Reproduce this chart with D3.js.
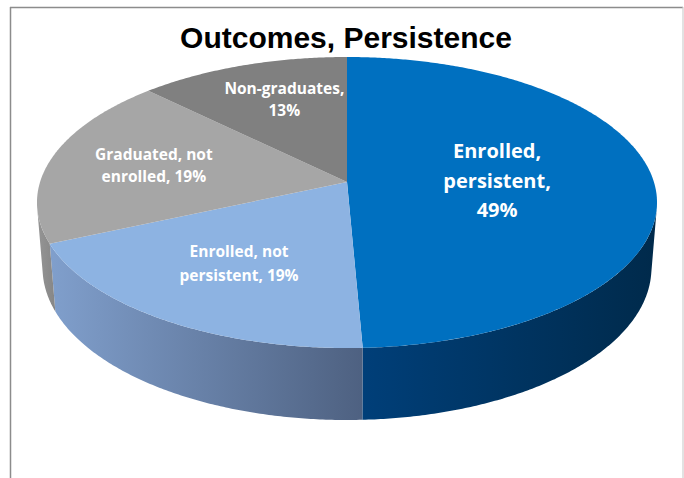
<!DOCTYPE html>
<html>
<head>
<meta charset="utf-8">
<script src="https://cdn.jsdelivr.net/npm/d3@7"></script>
<style>
  html, body { margin: 0; padding: 0; background: #ffffff; }
  svg { display: block; }
</style>
</head>
<body>
<svg id="chart" width="684" height="478"></svg>
<script>
// ---- data ----
const title = "Outcomes, Persistence";
const categories = ["Enrolled, persistent", "Enrolled, not persistent", "Graduated, not enrolled", "Non-graduates"];
const values = [49.3, 19.0, 19.1, 12.6];
const labelLines = [
  ["Enrolled,", "persistent,"],
  ["Enrolled, not", "persistent,"],
  ["Graduated, not", "enrolled,"],
  ["Non-graduates,"]
];
// percent goes on its own line or appended to the last line
const percentOwnLine = [true, false, false, true];

// ---- styles ----
const topColors = ["#0070C0", "#8DB3E2", "#A6A6A6", "#808080"];
const wallStops = [["#003f79", "#002a4b"], ["#809fcc", "#4e6181"], ["#959595", "#868686"], ["#6a6a6a", "#5a5a5a"]];
const labelRadius = [0.49, 0.62, 0.65, 0.687];
const labelNudge = [0, 0, 0, 12];
const labelSize = [20, 15.5, 15.5, 15.5];
const labelLead = [29.5, 23.5, 22, 22];

const svg = d3.select("#chart");
const W = 684, H = 478;

// ---- 3D projection of the pie (perspective) ----
const cx = 347, cy = 182;
const phi = Math.asin(0.4647);
const Dist = 6.285, focal = 1929, depthH = 0.2433;
function proj(theta, rho, h) {
  const X = rho * Math.sin(theta), Z = rho * Math.cos(theta);
  const yc = Z * Math.sin(phi) - h * Math.cos(phi);
  const dep = Dist + Z * Math.cos(phi) + h * Math.sin(phi);
  return [cx + focal * X / dep, cy - focal * yc / dep];
}

const pie = d3.pie().sort(null).startAngle(0).endAngle(2 * Math.PI);
const arcs = pie(values);
const line = d3.line().curve(d3.curveLinear);
function samples(a0, a1) {
  const n = Math.max(2, Math.ceil(Math.abs(a1 - a0) / (Math.PI / 360)));
  return d3.range(n + 1).map(i => a0 + (a1 - a0) * i / n);
}

const defs = svg.append("defs");

// ---- walls ----
const visLim = Math.acos(-1 / (Dist * Math.cos(phi)));
const thL = visLim, thR = 2 * Math.PI - visLim;
const gWalls = svg.append("g");
arcs.forEach((a, i) => {
  const s = Math.max(a.startAngle, thL), e = Math.min(a.endAngle, thR);
  if (e <= s) return;
  const ts = samples(s, e);
  const topPts = ts.map(t => proj(t, 1, 0));
  const botPts = ts.slice().reverse().map(t => proj(t, 1, depthH));
  const pts = topPts.concat(botPts);
  const xs = pts.map(p => p[0]);
  const gid = "wall" + i;
  const grad = defs.append("linearGradient").attr("id", gid)
    .attr("gradientUnits", "userSpaceOnUse")
    .attr("x1", d3.min(xs)).attr("x2", d3.max(xs)).attr("y1", 0).attr("y2", 0);
  grad.append("stop").attr("offset", "0%").attr("stop-color", wallStops[i][0]);
  grad.append("stop").attr("offset", "100%").attr("stop-color", wallStops[i][1]);
  gWalls.append("path").attr("d", line(pts) + "Z").attr("fill", `url(#${gid})`);
});

// ---- top faces ----
const gTop = svg.append("g");
arcs.forEach((a, i) => {
  const pts = [proj(0, 0, 0)].concat(samples(a.startAngle, a.endAngle).map(t => proj(t, 1, 0)));
  gTop.append("path").attr("d", line(pts) + "Z").attr("fill", topColors[i]);
});

// ---- labels ----
const gLab = svg.append("g").attr("font-family", "'Open Sans', Lato, sans-serif")
  .attr("font-weight", "bold").attr("fill", "#ffffff").attr("text-anchor", "middle");
arcs.forEach((a, i) => {
  const mid = (a.startAngle + a.endAngle) / 2;
  const p = proj(mid, labelRadius[i], 0);
  const pct = Math.round(values[i]) + "%";
  const lines = labelLines[i].slice();
  if (percentOwnLine[i]) lines.push(pct); else lines[lines.length - 1] += " " + pct;
  const n = lines.length;
  const t = gLab.append("text").attr("font-size", labelSize[i]);
  lines.forEach((ln, j) => {
    t.append("tspan").attr("x", p[0] + labelNudge[i])
      .attr("y", p[1] + (j - (n - 1) / 2) * labelLead[i])
      .attr("dy", "0.36em").text(ln);
  });
});

// ---- title ----
svg.append("text").attr("x", 346).attr("y", 48).attr("text-anchor", "middle")
  .attr("font-family", "'Liberation Sans', Arial, sans-serif").attr("font-weight", "bold")
  .attr("font-size", 30).attr("fill", "#000").text(title);

// ---- frame ----
svg.append("line").attr("x1", 10).attr("x2", 683).attr("y1", 7.5).attr("y2", 7.5)
  .attr("stroke", "#8c8c8c").attr("stroke-width", 1.5);
svg.append("line").attr("x1", 10.5).attr("x2", 10.5).attr("y1", 7).attr("y2", H)
  .attr("stroke", "#8c8c8c").attr("stroke-width", 1.5);
svg.append("line").attr("x1", 683).attr("x2", 683).attr("y1", 7).attr("y2", H)
  .attr("stroke", "#cfcfcf").attr("stroke-width", 1.2);
</script>
</body>
</html>
